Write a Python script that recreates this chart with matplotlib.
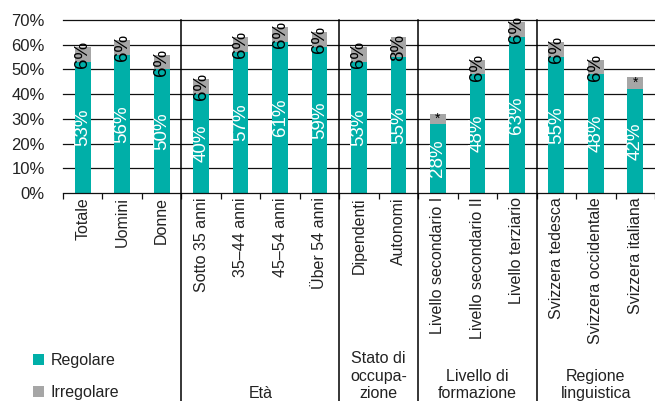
import numpy as np
import matplotlib.pyplot as plt

plt.rcParams['font.family'] = ['Liberation Sans', 'DejaVu Sans']

categorie = ['Totale', 'Uomini', 'Donne',
             'Sotto 35 anni', '35–44 anni', '45–54 anni', 'Über 54 anni',
             'Dipendenti', 'Autonomi',
             'Livello secondario I', 'Livello secondario II', 'Livello terziario',
             'Svizzera tedesca', 'Svizzera occidentale', 'Svizzera italiana']
regolare = [53, 56, 50, 40, 57, 61, 59, 53, 55, 28, 48, 63, 55, 48, 42]
irregolare = [6, 6, 6, 6, 6, 6, 6, 6, 8, 4, 6, 6, 6, 6, 5]
etichette_irr = ['6%', '6%', '6%', '6%', '6%', '6%', '6%', '6%', '8%', '*',
                 '6%', '6%', '6%', '6%', '*']
gruppi = ['', 'Età', 'Stato di\noccupa-\nzione', 'Livello di\nformazione',
          'Regione\nlinguistica']
gruppi_dim = [3, 4, 2, 3, 3]

teal = '#00afa8'
grigio = '#a6a6a6'
testo = '#222222'

fig = plt.figure(figsize=(6.55, 4.01), dpi=100)
ax = fig.add_axes([63 / 655, 1 - 193 / 401, 1 - 63 / 655, 173 / 401])

x = np.arange(len(categorie))
for y in range(10, 80, 10):
    ax.axhline(y, color='#111111', lw=0.9, zorder=0, clip_on=False)

b1 = ax.bar(x, regolare, width=0.4, color=teal, zorder=2, label='Regolare')
b2 = ax.bar(x, irregolare, width=0.4, bottom=regolare, color=grigio, zorder=2,
            label='Irregolare')

for xi, r, i, lab in zip(x, regolare, irregolare, etichette_irr):
    ax.text(xi, r / 2, f'{r}%', rotation=90, ha='center', va='center',
            color='white', fontsize=13.5, zorder=3)
    if lab == '*':
        ax.text(xi, r + i / 2, lab, ha='center', va='center', color='black',
                fontsize=10, zorder=3)
    else:
        ax.text(xi, r + i / 2, lab, rotation=90, ha='center', va='center',
                color='black', fontsize=13.5, zorder=3)

ax.set_xlim(-0.5, len(categorie) - 0.5)
ax.set_ylim(0, 70)
ax.set_yticks(range(0, 80, 10))
ax.set_yticklabels([f'{v}%' for v in range(0, 80, 10)], fontsize=12, color=testo)
ax.tick_params(axis='y', length=0, pad=13)

ax.set_xticks(x)
ax.set_xticklabels(categorie, rotation=90, fontsize=11.5, color=testo,
                   ha='center', va='top')
ax.set_xticks(np.arange(-0.5, len(categorie), 1), minor=True)
ax.tick_params(axis='x', which='major', length=0, pad=3)
ax.tick_params(axis='x', which='minor', length=4, width=0.9, color='#111111')

for s in ['left', 'right', 'top']:
    ax.spines[s].set_visible(False)
ax.spines['bottom'].set_color('#111111')
ax.spines['bottom'].set_linewidth(0.9)

# separatori dei gruppi e titoli dei gruppi
pos = 0
for nome, n in zip(gruppi, gruppi_dim):
    if pos > 0:
        ax.axvline(pos - 0.5, ymin=-1.3, ymax=1, color='black', lw=1.1,
                   clip_on=False, zorder=4)
    centro = pos - 0.5 + n / 2
    if nome:
        xf = fig.transFigure.inverted().transform(
            ax.transData.transform((centro, 0)))[0]
        fig.text(xf, 0.0, nome, ha='center', va='bottom', fontsize=11.5,
                 color=testo, linespacing=1.2)
    pos += n

fig.legend(handles=[b1, b2], loc='upper left', bbox_to_anchor=(33 / 655, 1 - 353 / 401),
           frameon=False, fontsize=11.5, handlelength=0.7, handleheight=0.7,
           handletextpad=0.4, labelspacing=1.05, borderpad=0, borderaxespad=0,
           labelcolor=testo)

fig.savefig('out.png', dpi=100)
